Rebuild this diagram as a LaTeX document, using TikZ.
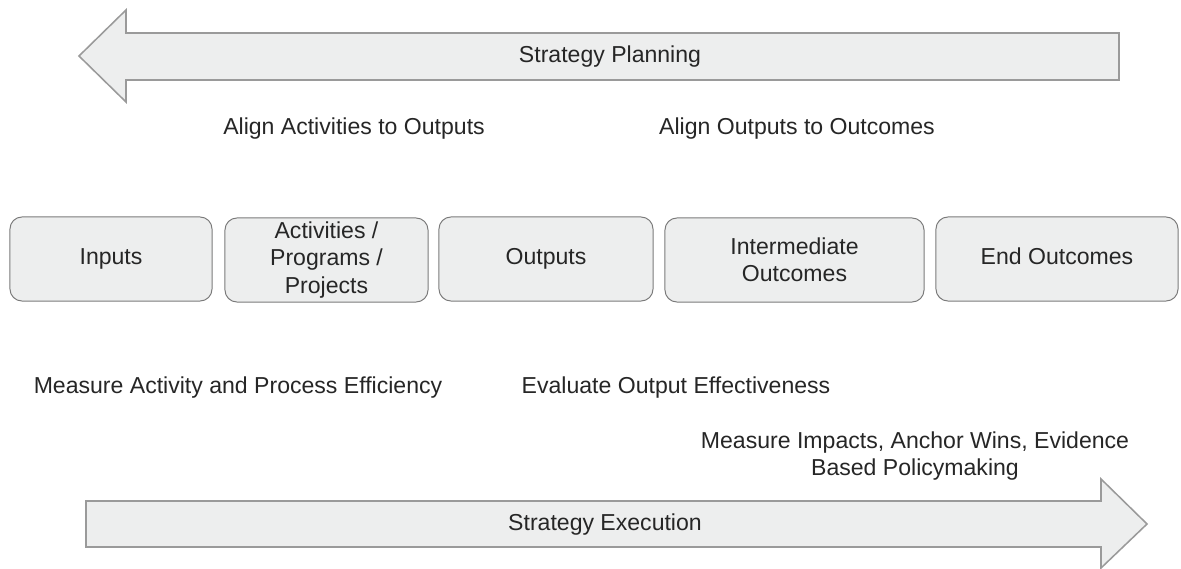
\documentclass[tikz,border=0pt]{standalone}
\usepackage{fontspec}
\setmainfont{Liberation Sans}
\usepackage{xcolor}
\usetikzlibrary{calc}

\definecolor{boxfill}{HTML}{EDEEEE}
\definecolor{boxline}{HTML}{7A7A7A}
\definecolor{arrowline}{HTML}{9A9A9A}
\definecolor{inktext}{HTML}{262626}
\newcommand{\labelfont}{\fontsize{16.4}{19.5}\selectfont}

\begin{document}
\begin{tikzpicture}[x=0.025cm,y=-0.025cm,
  stagebox/.style={draw=boxline,fill=boxfill,rounded corners=0.3cm,line width=0.7pt,
    minimum height=2.1cm,inner sep=0pt,align=center,text=inktext,font=\labelfont},
  oneline/.style={text height=11.8pt,text depth=3.4pt},
  bigarrow/.style={draw=arrowline,fill=boxfill,line width=1.1pt,line join=miter},
  note/.style={inner sep=0pt,align=center,text=inktext,font=\labelfont}]
\useasboundingbox (0,0) rectangle (1181,569);

% planning arrow, pointing left
\coordinate (PL) at (79,56);
\coordinate (PR) at (1119,56);
\draw[bigarrow] (PR) ++(0,-23) -- (126,33) -- (126,10) -- (PL) -- (126,102) -- (126,80) -- ($(PR)+(0,24)$) -- cycle;
\node[note,oneline] (planning) at (610,57) {Strategy Planning};

% execution arrow, pointing right
\coordinate (EL) at (86,524);
\coordinate (ER) at (1147,524);
\draw[bigarrow] (EL) ++(0,-23) -- (1101,501) -- (1101,479) -- (ER) -- (1101,568) -- (1101,547) -- ($(EL)+(0,23)$) -- cycle;
\node[note,oneline] (execution) at (605,525) {Strategy Execution};

% the five stages
\node[stagebox,oneline,minimum width=5.05cm] (inputs) at (111,259) {Inputs};
\node[stagebox,minimum width=5.075cm] (activities) at (326.5,260) {Activities /\\Programs /\\Projects};
\node[stagebox,oneline,minimum width=5.35cm] (outputs) at (546,259) {Outputs};
\node[stagebox,minimum width=6.475cm] (intermediate) at (794.5,260) {Intermediate\\Outcomes};
\node[stagebox,oneline,minimum width=6.05cm] (endout) at (1057,259) {End Outcomes};

% planning notes
\node[note,oneline] (alignact) at (354,129) {Align Activities to Outputs};
\node[note,oneline] (alignout) at (797,129) {Align Outputs to Outcomes};

% execution notes
\node[note,oneline] (efficiency) at (238,388) {Measure Activity and Process Efficiency};
\node[note,oneline] (effective) at (676,388) {Evaluate Output Effectiveness};
\node[note] (impacts) at (915,456) {Measure Impacts, Anchor Wins, Evidence\\Based Policymaking};
\end{tikzpicture}
\end{document}
